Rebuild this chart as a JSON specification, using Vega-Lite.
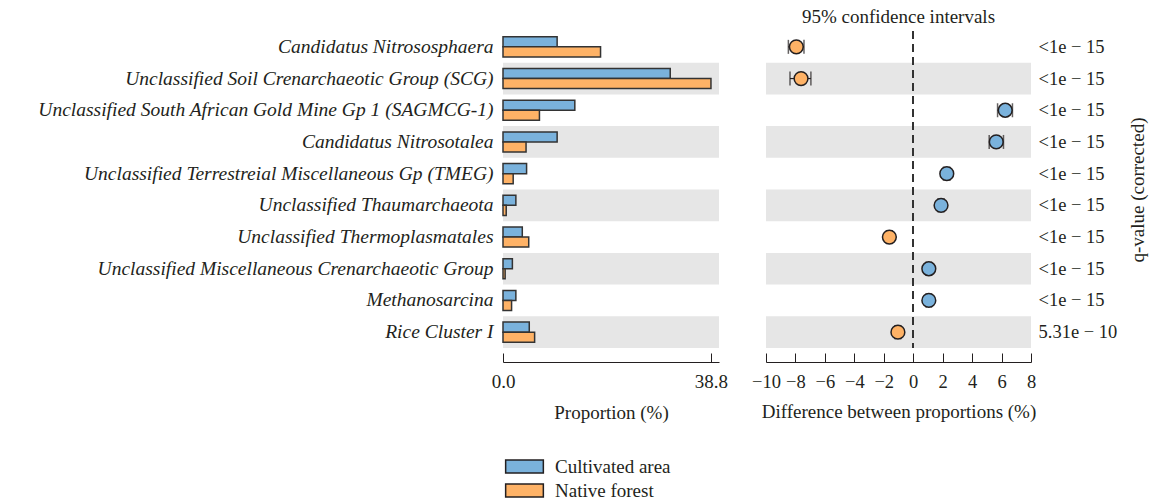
{
  "$schema": "https://vega.github.io/schema/vega-lite/v6.json",
  "background": "white",
  "padding": {"left": 37, "top": 8, "right": 5, "bottom": 5},
  "config": {
    "font": "Liberation Serif",
    "view": {"stroke": null},
    "axis": {"labelFont": "Liberation Serif", "titleFont": "Liberation Serif", "labelFontSize": 19, "titleFontSize": 19, "labelColor": "#231f20", "titleColor": "#231f20", "titleFontWeight": "normal", "domainColor": "#231f20", "tickColor": "#231f20", "grid": false, "labelOverlap": false, "labelFlush": false},
    "legend": {"labelFont": "Liberation Serif", "labelFontSize": 19, "labelColor": "#231f20"}
  },
  "datasets": {
    "props": [
      {"taxon": "Candidatus Nitrososphaera", "group": "Cultivated area", "value": 10.1},
      {"taxon": "Candidatus Nitrososphaera", "group": "Native forest", "value": 18.2},
      {"taxon": "Unclassified Soil Crenarchaeotic Group (SCG)", "group": "Cultivated area", "value": 31.2},
      {"taxon": "Unclassified Soil Crenarchaeotic Group (SCG)", "group": "Native forest", "value": 38.8},
      {"taxon": "Unclassified South African Gold Mine Gp 1 (SAGMCG-1)", "group": "Cultivated area", "value": 13.4},
      {"taxon": "Unclassified South African Gold Mine Gp 1 (SAGMCG-1)", "group": "Native forest", "value": 6.8},
      {"taxon": "Candidatus Nitrosotalea", "group": "Cultivated area", "value": 10.1},
      {"taxon": "Candidatus Nitrosotalea", "group": "Native forest", "value": 4.3},
      {"taxon": "Unclassified Terrestreial Miscellaneous Gp (TMEG)", "group": "Cultivated area", "value": 4.4},
      {"taxon": "Unclassified Terrestreial Miscellaneous Gp (TMEG)", "group": "Native forest", "value": 1.9},
      {"taxon": "Unclassified Thaumarchaeota", "group": "Cultivated area", "value": 2.4},
      {"taxon": "Unclassified Thaumarchaeota", "group": "Native forest", "value": 0.6},
      {"taxon": "Unclassified Thermoplasmatales", "group": "Cultivated area", "value": 3.6},
      {"taxon": "Unclassified Thermoplasmatales", "group": "Native forest", "value": 4.8},
      {"taxon": "Unclassified Miscellaneous Crenarchaeotic Group", "group": "Cultivated area", "value": 1.75},
      {"taxon": "Unclassified Miscellaneous Crenarchaeotic Group", "group": "Native forest", "value": 0.4},
      {"taxon": "Methanosarcina", "group": "Cultivated area", "value": 2.4},
      {"taxon": "Methanosarcina", "group": "Native forest", "value": 1.6},
      {"taxon": "Rice Cluster I", "group": "Cultivated area", "value": 4.9},
      {"taxon": "Rice Cluster I", "group": "Native forest", "value": 5.9}
    ],
    "diffs": [
      {"taxon": "Candidatus Nitrososphaera", "rank": 1, "diff": -7.94, "lo": -8.48, "hi": -7.42, "higher": "Native forest", "q": "<1e − 15"},
      {"taxon": "Unclassified Soil Crenarchaeotic Group (SCG)", "rank": 2, "diff": -7.62, "lo": -8.37, "hi": -6.95, "higher": "Native forest", "q": "<1e − 15"},
      {"taxon": "Unclassified South African Gold Mine Gp 1 (SAGMCG-1)", "rank": 3, "diff": 6.25, "lo": 5.73, "hi": 6.74, "higher": "Cultivated area", "q": "<1e − 15"},
      {"taxon": "Candidatus Nitrosotalea", "rank": 4, "diff": 5.64, "lo": 5.16, "hi": 6.13, "higher": "Cultivated area", "q": "<1e − 15"},
      {"taxon": "Unclassified Terrestreial Miscellaneous Gp (TMEG)", "rank": 5, "diff": 2.28, "lo": 2.05, "hi": 2.5, "higher": "Cultivated area", "q": "<1e − 15"},
      {"taxon": "Unclassified Thaumarchaeota", "rank": 6, "diff": 1.89, "lo": 1.68, "hi": 2.1, "higher": "Cultivated area", "q": "<1e − 15"},
      {"taxon": "Unclassified Thermoplasmatales", "rank": 7, "diff": -1.62, "lo": -1.82, "hi": -1.42, "higher": "Native forest", "q": "<1e − 15"},
      {"taxon": "Unclassified Miscellaneous Crenarchaeotic Group", "rank": 8, "diff": 1.06, "lo": 0.88, "hi": 1.24, "higher": "Cultivated area", "q": "<1e − 15"},
      {"taxon": "Methanosarcina", "rank": 9, "diff": 1.06, "lo": 0.88, "hi": 1.24, "higher": "Cultivated area", "q": "<1e − 15"},
      {"taxon": "Rice Cluster I", "rank": 10, "diff": -1.04, "lo": -1.24, "hi": -0.84, "higher": "Native forest", "q": "5.31e − 10"}
    ]
  },
  "resolve": {"scale": {"color": "shared"}},
  "bounds": "flush",
  "spacing": 47,
  "hconcat": [
    {
      "width": 216,
      "height": 317,
      "encoding": {
        "y": {"field": "taxon", "type": "nominal",
          "sort": ["Candidatus Nitrososphaera", "Unclassified Soil Crenarchaeotic Group (SCG)", "Unclassified South African Gold Mine Gp 1 (SAGMCG-1)", "Candidatus Nitrosotalea", "Unclassified Terrestreial Miscellaneous Gp (TMEG)", "Unclassified Thaumarchaeota", "Unclassified Thermoplasmatales", "Unclassified Miscellaneous Crenarchaeotic Group", "Methanosarcina", "Rice Cluster I"],
          "scale": {"paddingInner": 0, "paddingOuter": 0},
          "axis": {"title": null, "domain": false, "ticks": false, "labelPadding": 10, "labelFontStyle": "italic", "labelFontSize": 19.5, "labelLimit": 700}
        }
      },
      "layer": [
        {
          "data": {"name": "diffs"},
          "transform": [{"filter": "datum.rank % 2 == 0"}],
          "mark": {"type": "rect", "color": "#e6e6e6"}
        },
        {
          "data": {"name": "props"},
          "mark": {"type": "bar", "stroke": "#333333", "strokeWidth": 1.5, "opacity": 1},
          "encoding": {
            "yOffset": {"field": "group", "type": "nominal", "sort": ["Cultivated area", "Native forest"], "scale": {"paddingInner": 0, "paddingOuter": 0.58}},
            "x": {"field": "value", "type": "quantitative",
              "scale": {"domain": [0, 40.3], "nice": false, "zero": true},
              "axis": {"title": "Proportion (%)", "values": [0, 38.8], "format": ".1f", "offset": 14, "tickSize": -9, "labelPadding": 19, "titlePadding": 12, "labelOverlap": false, "labelFlush": false}
            },
            "color": {"field": "group", "type": "nominal",
              "scale": {"domain": ["Cultivated area", "Native forest"], "range": ["#7ab2dc", "#feb266"]},
              "legend": {"title": null, "orient": "none", "legendX": 12, "legendY": 426, "symbolType": "M-2.9,-1H2.9V1H-2.9Z", "symbolSize": 169, "symbolStrokeColor": "#333333", "symbolStrokeWidth": 1.5, "symbolOpacity": 1, "labelOffset": 21, "rowPadding": 4}
            }
          }
        }
      ]
    },
    {
      "bounds": "flush",
      "spacing": 7,
      "hconcat": [
        {
          "width": 265,
          "height": 317,
          "title": {"text": "95% confidence intervals", "fontSize": 19, "fontWeight": "normal", "font": "Liberation Serif", "color": "#231f20", "offset": 3, "anchor": "middle"},
          "data": {"name": "diffs"},
          "encoding": {
            "y": {"field": "taxon", "type": "nominal",
              "sort": ["Candidatus Nitrososphaera", "Unclassified Soil Crenarchaeotic Group (SCG)", "Unclassified South African Gold Mine Gp 1 (SAGMCG-1)", "Candidatus Nitrosotalea", "Unclassified Terrestreial Miscellaneous Gp (TMEG)", "Unclassified Thaumarchaeota", "Unclassified Thermoplasmatales", "Unclassified Miscellaneous Crenarchaeotic Group", "Methanosarcina", "Rice Cluster I"],
              "scale": {"paddingInner": 0, "paddingOuter": 0}, "axis": null}
          },
          "layer": [
            {
              "transform": [{"filter": "datum.rank % 2 == 0"}],
              "mark": {"type": "rect", "color": "#e6e6e6"}
            },
            {
              "mark": {"type": "rule", "color": "#231f20", "strokeWidth": 1.2},
              "encoding": {
                "x": {"field": "lo", "type": "quantitative",
                  "scale": {"domain": [-10, 8], "nice": false, "zero": false},
                  "axis": {"title": "Difference between proportions (%)", "values": [-10, -8, -6, -4, -2, 0, 2, 4, 6, 8], "offset": 14, "tickSize": -9, "labelPadding": 19, "titlePadding": 12, "labelOverlap": false, "labelFontSize": 18.5, "labelBound": false, "labelSeparation": 0, "labelFlush": false}
                },
                "x2": {"field": "hi"}
              }
            },
            {
              "mark": {"type": "rule", "strokeDash": [8, 5], "color": "#333333", "strokeWidth": 1.3},
              "encoding": {
                "x": {"datum": 0, "type": "quantitative",
                  "axis": {"title": "Difference between proportions (%)", "values": [-10, -8, -6, -4, -2, 0, 2, 4, 6, 8], "offset": 14, "tickSize": -9, "labelPadding": 19, "titlePadding": 12, "labelOverlap": false, "labelFontSize": 18.5, "labelBound": false, "labelSeparation": 0, "labelFlush": false}
                },
                "y": null
              }
            },
            {
              "mark": {"type": "tick", "color": "#231f20", "thickness": 1.5, "size": 14, "orient": "vertical"},
              "encoding": {"x": {"field": "lo", "type": "quantitative",
                "axis": {"title": "Difference between proportions (%)", "values": [-10, -8, -6, -4, -2, 0, 2, 4, 6, 8], "offset": 14, "tickSize": -9, "labelPadding": 19, "titlePadding": 12, "labelOverlap": false, "labelFontSize": 18.5, "labelBound": false, "labelSeparation": 0, "labelFlush": false}}}
            },
            {
              "mark": {"type": "tick", "color": "#231f20", "thickness": 1.5, "size": 14, "orient": "vertical"},
              "encoding": {"x": {"field": "hi", "type": "quantitative",
                "axis": {"title": "Difference between proportions (%)", "values": [-10, -8, -6, -4, -2, 0, 2, 4, 6, 8], "offset": 14, "tickSize": -9, "labelPadding": 19, "titlePadding": 12, "labelOverlap": false, "labelFontSize": 18.5, "labelBound": false, "labelSeparation": 0, "labelFlush": false}}}
            },
            {
              "mark": {"type": "point", "filled": true, "stroke": "#231f20", "strokeWidth": 1.5, "size": 190, "opacity": 1},
              "encoding": {
                "x": {"field": "diff", "type": "quantitative",
                  "axis": {"title": "Difference between proportions (%)", "values": [-10, -8, -6, -4, -2, 0, 2, 4, 6, 8], "offset": 14, "tickSize": -9, "labelPadding": 19, "titlePadding": 12, "labelOverlap": false, "labelFontSize": 18.5, "labelBound": false, "labelSeparation": 0, "labelFlush": false}},
                "color": {"field": "higher", "type": "nominal"}
              }
            }
          ]
        },
        {
          "width": 1,
          "height": 317,
          "data": {"name": "diffs"},
          "mark": {"type": "text", "align": "left", "baseline": "middle", "fontSize": 18.5, "font": "Liberation Serif", "color": "#231f20"},
          "encoding": {
            "y": {"field": "taxon", "type": "nominal",
              "sort": ["Candidatus Nitrososphaera", "Unclassified Soil Crenarchaeotic Group (SCG)", "Unclassified South African Gold Mine Gp 1 (SAGMCG-1)", "Candidatus Nitrosotalea", "Unclassified Terrestreial Miscellaneous Gp (TMEG)", "Unclassified Thaumarchaeota", "Unclassified Thermoplasmatales", "Unclassified Miscellaneous Crenarchaeotic Group", "Methanosarcina", "Rice Cluster I"],
              "scale": {"paddingInner": 0, "paddingOuter": 0},
              "axis": {"orient": "right", "labels": false, "ticks": false, "domain": false, "title": "q-value (corrected)", "titleAngle": -90, "titlePadding": 108}
            },
            "text": {"field": "q"}
          }
        }
      ]
    }
  ]
}
